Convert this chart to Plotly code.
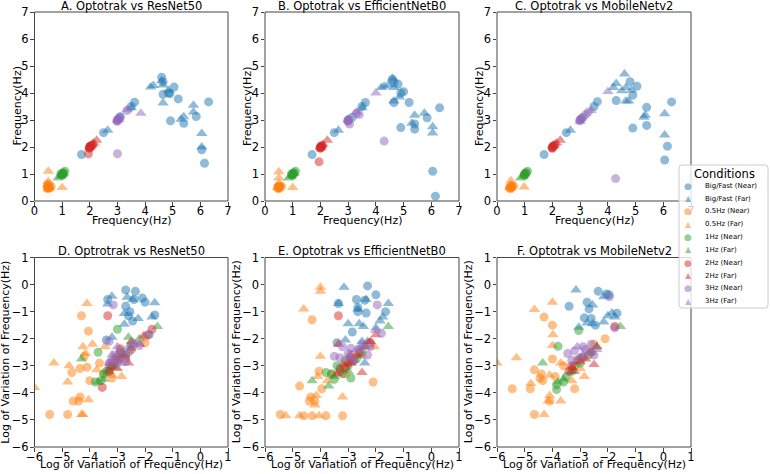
import plotly.graph_objects as go

# condition labels and colours (matplotlib tab10)
CONDITIONS = ["Big/Fast (Near)", "Big/Fast (Far)", "0.5Hz (Near)", "0.5Hz (Far)",
              "1Hz (Near)", "1Hz (Far)", "2Hz (Near)", "2Hz (Far)", "3Hz (Near)", "3Hz (Far)"]
COLORS = ["#1f77b4", "#1f77b4", "#ff7f0e", "#ff7f0e", "#2ca02c", "#2ca02c",
          "#d62728", "#d62728", "#9467bd", "#9467bd"]

TITLES = ["A. Optotrak vs ResNet50", "B. Optotrak vs EfficientNetB0", "C. Optotrak vs MobileNetv2",
          "D. Optrotrak vs ResNet50", "E. Optotrak vs EfficientNetB0", "F. Optotrak vs MobileNetv2"]

# ---- top row: frequency (Optotrak) vs frequency (model), (x, y) pairs per condition
PANEL_A = {
    "Big/Fast (Near)": [(1.7, 1.72), (2.5, 2.53), (3.1, 3.12), (3.5, 3.5), (3.62, 3.66), (4.6, 4.58), (4.65, 4.42),
                        (4.65, 3.95), (4.85, 4.0), (4.9, 3.98), (5.05, 4.22), (5.2, 3.78), (4.92, 2.97),
                        (5.4, 2.88), (5.85, 3.13), (6.3, 3.67), (6.05, 1.9), (6.15, 1.4)],
    "Big/Fast (Far)": [(2.65, 2.62), (3.5, 3.45), (4.2, 4.22), (4.3, 4.28), (4.6, 4.45), (4.65, 4.3), (4.65, 3.63),
                       (4.85, 4.1), (5.3, 3.03), (5.4, 3.12), (5.75, 3.55), (5.75, 3.3), (6.05, 2.5), (6.05, 2.0)],
    "0.5Hz (Near)": [(0.45, 0.48), (0.5, 0.5), (0.52, 0.52), (0.55, 0.5), (0.48, 0.55), (0.5, 0.45), (0.6, 0.55),
                     (0.47, 0.62), (0.5, 0.5)],
    "0.5Hz (Far)": [(0.5, 1.1), (0.5, 0.72), (0.48, 0.6), (1.0, 0.5), (0.55, 0.5), (0.5, 0.45)],
    "1Hz (Near)": [(1.0, 1.0), (1.02, 1.03), (0.98, 0.97), (1.05, 1.05), (1.1, 1.1), (1.0, 0.95), (0.95, 1.0),
                   (1.03, 1.0)],
    "1Hz (Far)": [(0.85, 0.85), (0.95, 0.92), (1.0, 1.0), (1.05, 1.02), (1.0, 0.97)],
    "2Hz (Near)": [(2.0, 2.0), (2.02, 2.03), (1.98, 1.97), (2.05, 2.05), (1.95, 1.75), (2.0, 1.95), (2.1, 2.08),
                   (2.0, 2.02)],
    "2Hz (Far)": [(2.15, 2.15), (2.25, 2.25), (2.05, 2.05), (2.0, 1.98), (2.1, 2.1)],
    "3Hz (Near)": [(3.0, 3.0), (3.02, 3.03), (2.98, 2.97), (3.05, 3.05), (3.0, 1.75), (3.1, 3.1), (3.35, 3.35),
                   (3.0, 2.95)],
    "3Hz (Far)": [(3.35, 3.38), (3.85, 3.25), (3.0, 3.0), (3.05, 3.02)],
}

PANEL_B = {
    "Big/Fast (Near)": [(1.7, 1.72), (2.5, 2.53), (3.15, 3.1), (3.5, 3.5), (3.62, 3.65), (4.6, 4.5), (4.65, 4.4),
                        (4.8, 4.33), (4.9, 4.0), (5.0, 4.05), (4.65, 3.65), (5.2, 3.65), (4.9, 2.72), (5.4, 2.85),
                        (5.4, 2.66), (5.85, 3.08), (6.3, 3.45), (6.05, 1.1), (6.15, 0.18)],
    "Big/Fast (Far)": [(2.65, 2.62), (3.5, 3.45), (4.2, 4.2), (4.3, 4.25), (4.45, 4.3), (4.6, 4.55), (4.65, 4.2),
                       (4.65, 3.7), (4.85, 3.85), (5.3, 2.88), (5.4, 3.18), (5.75, 3.25), (6.05, 2.75), (6.05, 2.52)],
    "0.5Hz (Near)": [(0.45, 0.48), (0.5, 0.5), (0.52, 0.52), (0.55, 0.55), (0.48, 0.55), (0.5, 0.45), (0.6, 0.55),
                     (0.5, 0.5)],
    "0.5Hz (Far)": [(0.5, 1.08), (0.5, 0.85), (0.5, 0.65), (1.0, 0.5), (0.45, 0.5)],
    "1Hz (Near)": [(1.0, 1.0), (1.02, 1.03), (0.98, 0.97), (1.05, 1.05), (1.1, 1.1), (1.0, 0.95), (0.95, 1.0)],
    "1Hz (Far)": [(0.85, 0.85), (0.95, 0.92), (1.0, 1.0), (1.05, 1.02)],
    "2Hz (Near)": [(2.0, 2.0), (2.02, 2.03), (1.98, 1.97), (2.05, 2.05), (1.95, 1.45), (2.0, 1.95), (2.05, 2.0)],
    "2Hz (Far)": [(2.1, 2.1), (2.25, 2.25), (2.05, 2.05), (2.0, 1.98)],
    "3Hz (Near)": [(3.0, 3.0), (3.02, 3.03), (2.98, 2.97), (3.05, 2.85), (3.3, 3.25), (3.4, 3.2), (4.3, 2.22),
                   (3.0, 2.95)],
    "3Hz (Far)": [(4.0, 4.0), (3.3, 3.3), (3.0, 3.0)],
}

PANEL_C = {
    "Big/Fast (Near)": [(1.7, 1.72), (2.5, 2.53), (3.1, 3.1), (3.5, 3.5), (3.62, 3.68), (4.3, 3.72), (4.8, 4.42),
                        (4.9, 3.92), (5.05, 4.25), (5.4, 3.47), (5.4, 2.8), (4.9, 2.7), (6.3, 3.67), (6.15, 2.03),
                        (6.05, 1.52)],
    "Big/Fast (Far)": [(2.65, 2.62), (4.2, 4.2), (4.3, 4.35), (4.6, 4.7), (4.5, 4.08), (4.65, 4.2), (4.65, 3.7),
                       (4.75, 3.7), (4.85, 4.1), (5.3, 3.1), (5.35, 3.18), (6.05, 3.23), (6.05, 2.44)],
    "0.5Hz (Near)": [(0.45, 0.48), (0.5, 0.5), (0.52, 0.52), (0.55, 0.55), (0.48, 0.55), (0.5, 0.45), (0.6, 0.55)],
    "0.5Hz (Far)": [(0.5, 0.75), (0.5, 0.6), (0.98, 0.52), (0.45, 0.5)],
    "1Hz (Near)": [(1.0, 1.0), (1.02, 1.03), (0.98, 0.97), (1.05, 1.05), (1.1, 1.1), (1.0, 0.95)],
    "1Hz (Far)": [(0.85, 0.85), (0.95, 0.92), (1.0, 1.0)],
    "2Hz (Near)": [(2.0, 2.0), (2.02, 2.03), (1.98, 1.97), (2.05, 2.05), (2.0, 1.95), (2.1, 2.08)],
    "2Hz (Far)": [(2.15, 2.15), (2.28, 2.25), (2.05, 2.05)],
    "3Hz (Near)": [(3.0, 3.0), (3.02, 3.03), (2.98, 2.97), (3.05, 3.05), (3.3, 3.3), (3.2, 3.2), (4.28, 0.83)],
    "3Hz (Far)": [(4.0, 4.06), (3.0, 2.95), (3.4, 3.35)],
}

# ---- bottom row: log of variation of frequency
PANEL_D = {
    "Big/Fast (Near)": [(-2.7, -0.2), (-2.35, -0.25), (-2.4, -0.55), (-2.7, -0.8), (-2.1, -0.5), (-2.0, -0.65),
                        (-2.6, -1.15), (-2.45, -1.35), (-1.65, -1.12), (-3.35, -0.55), (-3.4, -2.05), (-2.55, -1.0),
                        (-1.85, -1.85)],
    "Big/Fast (Far)": [(-3.35, -0.72), (-3.2, -0.43), (-2.65, -0.47), (-2.45, -0.55), (-1.65, -0.67), (-2.25, -1.25),
                       (-2.75, -1.47), (-3.2, -1.95), (-1.75, -1.2), (-2.75, -1.07)],
    "0.5Hz (Near)": [(-4.3, -1.15), (-4.05, -1.72), (-4.35, -3.1), (-4.65, -3.25), (-4.1, -3.05), (-4.2, -2.65),
                     (-3.65, -2.9), (-4.6, -4.3), (-4.35, -4.15), (-4.4, -4.3), (-5.45, -4.8), (-4.8, -4.8),
                     (-4.0, -3.55), (-3.5, -3.3), (-2.0, -2.15), (-1.95, -1.9), (-3.2, -3.45), (-2.9, -2.35)],
    "0.5Hz (Far)": [(-4.1, -0.7), (-3.9, -2.2), (-4.25, -2.3), (-5.3, -2.9), (-4.75, -3.0), (-4.8, -3.6),
                    (-6.0, -3.8), (-4.3, -4.8), (-4.25, -4.8), (-4.05, -4.25), (-3.75, -3.15), (-3.2, -3.35),
                    (-2.85, -3.4), (-3.45, -2.3), (-4.15, -2.55)],
    "1Hz (Near)": [(-3.0, -1.65), (-3.7, -2.5), (-3.8, -3.6), (-3.6, -3.55), (-3.3, -3.1), (-3.1, -2.9),
                   (-2.5, -2.2), (-2.8, -2.55), (-3.5, -3.3), (-2.7, -2.6), (-3.2, -3.0), (-3.4, -3.2)],
    "1Hz (Far)": [(-1.55, -1.55), (-2.6, -1.95), (-4.3, -2.75), (-3.5, -3.5), (-3.3, -3.2), (-2.9, -2.8),
                  (-3.0, -2.6), (-2.5, -2.35), (-3.7, -3.6), (-3.1, -3.05), (-2.2, -2.0)],
    "2Hz (Near)": [(-3.35, -1.15), (-1.75, -1.65), (-3.55, -3.8), (-3.0, -2.8), (-2.7, -2.7), (-3.2, -3.0),
                   (-2.5, -2.4), (-2.9, -2.5), (-3.3, -3.2)],
    "2Hz (Far)": [(-2.05, -1.9), (-2.5, -2.1), (-2.6, -2.9), (-3.3, -2.9), (-3.1, -2.7), (-2.8, -2.6),
                  (-3.0, -3.1), (-2.2, -2.2)],
    "3Hz (Near)": [(-3.15, -0.75), (-1.9, -1.85), (-3.1, -2.6), (-2.8, -2.6), (-3.3, -2.9), (-2.9, -2.4),
                   (-2.6, -2.5), (-3.2, -2.8), (-2.2, -2.25), (-3.3, -2.1), (-2.4, -2.2), (-3.0, -2.9),
                   (-2.7, -2.85)],
    "3Hz (Far)": [(-3.0, -2.3), (-2.6, -2.3), (-3.2, -2.6), (-2.9, -2.9), (-2.4, -2.15)],
}

PANEL_E = {
    "Big/Fast (Near)": [(-2.3, -0.05), (-2.7, -0.55), (-2.4, -0.58), (-2.0, -0.38), (-2.65, -0.85), (-2.65, -1.0),
                        (-1.65, -1.0), (-2.35, -1.05), (-3.4, -2.15), (-2.85, -1.75), (-3.35, -0.7)],
    "Big/Fast (Far)": [(-3.15, -0.1), (-2.35, -0.55), (-3.35, -0.7), (-1.55, -0.7), (-2.65, -0.9), (-2.6, -1.45),
                       (-3.0, -1.45), (-2.45, -1.55), (-1.85, -1.35), (-2.0, -1.6), (-1.75, -1.2), (-2.5, -2.1),
                       (-2.3, -2.1), (-3.1, -2.05), (-2.4, -2.9)],
    "0.5Hz (Near)": [(-4.3, -1.3), (-4.05, -3.2), (-4.75, -3.75), (-4.35, -4.15), (-4.4, -4.3), (-4.2, -4.3),
                     (-5.45, -4.8), (-4.6, -4.85), (-4.3, -4.85), (-3.8, -4.85), (-3.2, -4.85), (-3.95, -3.85),
                     (-2.1, -3.6), (-3.6, -3.3), (-2.9, -2.6), (-3.1, -3.3)],
    "0.5Hz (Far)": [(-4.0, -0.1), (-4.0, -0.25), (-4.6, -0.9), (-4.0, -2.65), (-5.25, -4.85), (-4.75, -4.85),
                    (-4.05, -4.85), (-4.2, -4.45), (-4.15, -4.1), (-3.2, -4.15), (-3.75, -3.55), (-4.1, -3.4),
                    (-2.5, -2.6), (-2.05, -2.3)],
    "1Hz (Near)": [(-3.8, -3.25), (-3.6, -3.3), (-3.5, -3.5), (-3.2, -3.3), (-2.9, -3.45), (-3.3, -3.1),
                   (-3.0, -3.0), (-2.7, -2.75), (-2.5, -2.5), (-3.4, -3.0), (-3.1, -2.8)],
    "1Hz (Far)": [(-1.55, -1.55), (-4.3, -3.55), (-3.7, -3.75), (-3.5, -3.4), (-3.2, -3.15), (-2.9, -2.9),
                  (-2.6, -2.65), (-3.0, -3.2), (-2.4, -2.3)],
    "2Hz (Near)": [(-3.35, -1.15), (-3.3, -3.2), (-3.0, -2.9), (-2.8, -2.8), (-2.6, -2.5), (-3.1, -3.05),
                   (-2.9, -2.7), (-2.2, -2.15)],
    "2Hz (Far)": [(-2.0, -1.85), (-3.35, -2.2), (-2.5, -3.25), (-3.2, -2.95), (-2.9, -2.9), (-2.4, -2.3),
                  (-2.7, -2.6), (-3.4, -3.3), (-2.2, -2.1)],
    "3Hz (Near)": [(-1.95, -0.75), (-1.8, -1.8), (-3.5, -2.65), (-2.9, -2.35), (-3.2, -2.3), (-2.6, -2.4),
                   (-2.3, -2.6), (-2.8, -2.8), (-3.0, -2.55), (-2.5, -2.2), (-2.2, -2.3), (-3.3, -2.7)],
    "3Hz (Far)": [(-2.0, -1.7), (-2.7, -2.4), (-3.0, -2.7), (-2.5, -2.3), (-2.9, -2.6)],
}

PANEL_F = {
    "Big/Fast (Near)": [(-2.35, -0.25), (-2.05, -0.35), (-1.95, -0.38), (-2.75, -0.65), (-2.68, -0.9),
                        (-3.4, -0.8), (-2.85, -1.23), (-2.6, -1.25), (-1.67, -1.06), (-2.45, -1.5)],
    "Big/Fast (Far)": [(-3.15, -0.2), (-2.15, -0.45), (-2.55, -0.75), (-2.0, -1.15), (-1.75, -1.2), (-2.75, -1.42),
                       (-3.05, -1.58), (-2.55, -1.45), (-2.15, -1.38), (-1.85, -1.05)],
    "0.5Hz (Near)": [(-4.3, -1.2), (-4.0, -1.5), (-4.0, -2.75), (-4.65, -3.15), (-4.4, -3.3), (-4.45, -3.45),
                     (-4.35, -3.55), (-5.45, -3.85), (-4.8, -3.85), (-3.9, -3.4), (-3.2, -3.85), (-4.65, -4.8),
                     (-4.1, -4.3), (-2.1, -2.0), (-2.5, -2.2), (-3.6, -3.0)],
    "0.5Hz (Far)": [(-4.0, -0.65), (-4.65, -0.92), (-3.98, -1.85), (-4.0, -2.25), (-5.3, -2.7), (-6.0, -2.9),
                    (-3.7, -2.9), (-4.1, -3.35), (-4.78, -3.65), (-4.1, -4.1), (-4.15, -4.3), (-3.7, -4.3),
                    (-4.3, -4.8), (-3.3, -3.55), (-2.85, -3.4), (-3.0, -3.1)],
    "1Hz (Near)": [(-3.05, -1.7), (-3.8, -2.28), (-3.85, -3.88), (-3.85, -3.7), (-3.5, -3.4), (-3.3, -3.2),
                   (-3.0, -2.9), (-2.7, -2.6), (-3.6, -3.6), (-3.2, -3.0)],
    "1Hz (Far)": [(-1.55, -1.55), (-4.35, -2.9), (-3.6, -3.5), (-3.3, -3.2), (-3.0, -2.7), (-2.6, -2.5),
                  (-2.4, -2.3), (-3.8, -3.6)],
    "2Hz (Near)": [(-1.75, -1.55), (-3.3, -3.0), (-3.1, -2.8), (-2.9, -2.7), (-2.6, -2.5), (-3.4, -3.2)],
    "2Hz (Far)": [(-2.5, -2.95), (-3.2, -3.2), (-3.3, -3.05), (-2.8, -2.75), (-3.0, -2.85), (-2.4, -2.3)],
    "3Hz (Near)": [(-1.95, -0.45), (-1.75, -1.6), (-3.45, -2.55), (-3.2, -2.45), (-2.8, -2.4), (-2.5, -2.6),
                   (-3.0, -2.7), (-2.6, -2.2), (-3.3, -2.8), (-2.9, -2.3)],
    "3Hz (Far)": [(-3.1, -2.3), (-2.7, -2.5), (-2.9, -2.6), (-2.4, -2.4)],
}

PANELS = [PANEL_A, PANEL_B, PANEL_C, PANEL_D, PANEL_E, PANEL_F]

W, H = 770, 474
FONT = "DejaVu Sans"
SPINE = "#444444"

# plot area boxes in pixels (left, right) and (top, bottom)
X_PIX = [(34.5, 228), (265, 459), (497, 691)]
Y_PIX = [(12, 201), (257.5, 447)]


def rgba(hex_color, a):
    h = hex_color.lstrip("#")
    return f"rgba({int(h[0:2], 16)},{int(h[2:4], 16)},{int(h[4:6], 16)},{a})"


def txt(text, x, y, size=11.5, color="#000", xanchor="center", yanchor="middle", **kw):
    fig.add_annotation(text=text, xref="paper", yref="paper", x=x / W, y=1 - y / H, showarrow=False,
                       xanchor=xanchor, yanchor=yanchor,
                       font=dict(family=FONT, size=size, color=color), **kw)


fig = go.Figure()

for p, panel in enumerate(PANELS):
    ax = p + 1
    xref = "x" if ax == 1 else f"x{ax}"
    yref = "y" if ax == 1 else f"y{ax}"
    for c, cond in enumerate(CONDITIONS):
        pts = panel[cond]
        fig.add_trace(go.Scatter(
            x=[q[0] for q in pts], y=[q[1] for q in pts],
            mode="markers", name=cond, showlegend=False,
            marker=dict(color=COLORS[c], opacity=0.5, size=9 if c % 2 == 0 else 10,
                        symbol="circle" if c % 2 == 0 else "triangle-up", line=dict(width=0)),
            xaxis=xref, yaxis=yref,
        ))

    row, col = divmod(p, 3)
    l, r = X_PIX[col]
    t, b = Y_PIX[row]
    rng = [0, 7] if row == 0 else [-6, 1]
    common = dict(range=rng, dtick=1, showline=False, ticks="outside", ticklen=3.5, tickwidth=1,
                  tickcolor=SPINE, showgrid=False, zeroline=False, automargin=False,
                  tickfont=dict(family=FONT, size=11.5, color="#000"))
    xa = "xaxis" if ax == 1 else f"xaxis{ax}"
    ya = "yaxis" if ax == 1 else f"yaxis{ax}"
    fig.update_layout({
        xa: dict(domain=[l / W, r / W], anchor=yref, ticklabelstandoff=-4, **common),
        ya: dict(domain=[1 - b / H, 1 - t / H], anchor=xref, ticklabelstandoff=-1, **common),
    })

    # frame around the plot area (matplotlib spines)
    fig.add_shape(type="rect", xref=f"{xref} domain", yref=f"{yref} domain", x0=0, x1=1, y0=0, y1=1,
                  layer="above", line=dict(color=SPINE, width=1))

    # panel title and axis titles
    label = "Frequency(Hz)" if row == 0 else "Log of Variation of Frequency(Hz)"
    txt(TITLES[p], (l + r) / 2, t - 6.5)
    txt(label, (l + r) / 2, b + (20 if row == 0 else 17.5), size=11)
    txt(label, l - (17.5 if row == 0 else 29), (t + b) / 2, size=11, textangle=-90)

# legend box drawn by hand to keep matplotlib's compact layout
LEG_L, LEG_R, LEG_T, LEG_B, RAD = 679, 768, 165, 308, 3
xs = [v / W for v in (LEG_L, LEG_L + RAD, LEG_R - RAD, LEG_R)]
ys = [1 - v / H for v in (LEG_T, LEG_T + RAD, LEG_B - RAD, LEG_B)]
box = (f"M {xs[1]},{ys[0]} L {xs[2]},{ys[0]} Q {xs[3]},{ys[0]} {xs[3]},{ys[1]} "
       f"L {xs[3]},{ys[2]} Q {xs[3]},{ys[3]} {xs[2]},{ys[3]} L {xs[1]},{ys[3]} "
       f"Q {xs[0]},{ys[3]} {xs[0]},{ys[2]} L {xs[0]},{ys[1]} Q {xs[0]},{ys[0]} {xs[1]},{ys[0]} Z")
fig.add_shape(type="path", path=box, xref="paper", yref="paper", layer="above",
              fillcolor="rgba(255,255,255,0.8)", line=dict(color="#cccccc", width=1))
txt("Conditions", (LEG_L + LEG_R) / 2 + 1, LEG_T + 9, size=11.5)
for i, cond in enumerate(CONDITIONS):
    yy = 185.7 + i * 12.84
    glyph = "●" if i % 2 == 0 else "▲"
    txt(glyph, 688, yy, size=9 if i % 2 == 0 else 8, color=rgba(COLORS[i], 0.5))
    txt(cond, 703, yy, size=7, xanchor="left")

fig.update_layout(
    width=W, height=H,
    margin=dict(l=0, r=0, t=0, b=0),
    paper_bgcolor="white", plot_bgcolor="white",
    font=dict(family=FONT, color="#000"),
    showlegend=False,
)

# drop the browser's default page margin so the figure sits at the top-left corner
fig.write_html("out.html", config={"displayModeBar": False},
               post_script="document.body.style.margin='0px';")
